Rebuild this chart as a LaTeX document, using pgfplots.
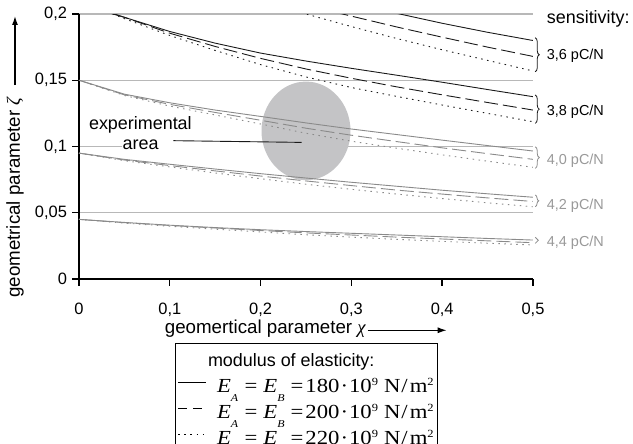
\documentclass[border=0pt]{standalone}
\usepackage{fontspec}
\setmainfont{Liberation Sans}
\newfontfamily\tnr{Liberation Serif}
\newfontfamily\tnrw[FakeStretch=1.14]{Liberation Serif}
\usepackage{pgfplots}
\usepackage{pgfplotstable}
\pgfplotsset{compat=1.18}
\usetikzlibrary{decorations.pathreplacing,arrows.meta}

\definecolor{blk}{HTML}{1A1A1A}
\definecolor{gry}{HTML}{8A8A8A}
\definecolor{gridc}{HTML}{B8B8B8}
\definecolor{circ}{HTML}{C4C4C6}
\definecolor{glab}{HTML}{999999}

\newcommand\fA{\fontsize{18}{21}\selectfont}
\newcommand\fL{\fontsize{18.8}{21}\selectfont}
\newcommand\fT{\fontsize{16.5}{19}\selectfont}
\newcommand\fS{\fontsize{14.5}{17}\selectfont}
\newcommand\sub[1]{\raisebox{-0.45em}{\fontsize{10.5}{11}\selectfont\itshape #1}}
\newcommand\sups[1]{\raisebox{0.36em}{\fontsize{11}{11}\selectfont #1}}
\newcommand\erow[1]{{\tnrw\fontsize{20}{22}\selectfont\hspace{9bp}{\itshape E}\sub{A}\hspace{6.5bp}=\hspace{6bp}{\itshape E}\sub{B}\hspace{6bp}=\hspace{2bp}#1\hspace{1bp}·\hspace{1bp}10\sups{9}\hspace{6bp}N\hspace{1bp}/\hspace{2bp}m\sups{2}}}

% sensitivity 3,6 pC/N
\pgfplotstableread{
x s d t
0.20 0.2200 0.2150 0.2095
0.25 0.2135 0.2065 0.2000
0.30 0.2068 0.1984 0.1905
0.35 0.2005 0.1902 0.1815
0.40 0.1930 0.1825 0.1730
0.45 0.1862 0.1750 0.1650
0.50 0.1800 0.1680 0.1570
}\gSix
% sensitivity 3,8 pC/N
\pgfplotstableread{
x s d t
0.00 0.2075 0.2090 0.2100
0.05 0.1975 0.1975 0.1965
0.10 0.1868 0.1855 0.1838
0.15 0.1780 0.1755 0.1725
0.20 0.1705 0.1665 0.1618
0.25 0.1645 0.1585 0.1525
0.30 0.1590 0.1515 0.1445
0.35 0.1538 0.1450 0.1378
0.40 0.1485 0.1390 0.1313
0.45 0.1430 0.1332 0.1250
0.50 0.1376 0.1275 0.1187
}\gEight
% sensitivity 4,0 pC/N
\pgfplotstableread{
x s d t
0.00 0.1500 0.1500 0.1500
0.05 0.1395 0.1390 0.1385
0.10 0.1330 0.1318 0.1305
0.15 0.1275 0.1257 0.1238
0.20 0.1227 0.1198 0.1170
0.25 0.1178 0.1138 0.1100
0.30 0.1132 0.1085 0.1040
0.35 0.1090 0.1037 0.0987
0.40 0.1048 0.0990 0.0937
0.45 0.1007 0.0946 0.0889
0.50 0.0966 0.0903 0.0843
}\gForty
% sensitivity 4,2 pC/N
\pgfplotstableread{
x s d t
0.00 0.0950 0.0950 0.0950
0.05 0.0903 0.0898 0.0893
0.10 0.0866 0.0856 0.0846
0.15 0.0830 0.0816 0.0800
0.20 0.0795 0.0777 0.0757
0.25 0.0762 0.0740 0.0715
0.30 0.0730 0.0705 0.0677
0.35 0.0700 0.0671 0.0641
0.40 0.0670 0.0641 0.0607
0.45 0.0643 0.0612 0.0575
0.50 0.0617 0.0585 0.0545
}\gFortyTwo
% sensitivity 4,4 pC/N
\pgfplotstableread{
x s d t
0.00 0.0450 0.0450 0.0450
0.05 0.0427 0.0425 0.0422
0.10 0.0406 0.0404 0.0398
0.15 0.0388 0.0385 0.0376
0.20 0.0372 0.0366 0.0355
0.25 0.0358 0.0348 0.0334
0.30 0.0345 0.0332 0.0316
0.35 0.0332 0.0316 0.0299
0.40 0.0319 0.0302 0.0284
0.45 0.0306 0.0288 0.0270
0.50 0.0294 0.0274 0.0257
}\gFortyFour

\begin{document}
\begin{tikzpicture}
\useasboundingbox (-79bp,-165bp) rectangle (554bp,279bp);
\begin{axis}[
  scale only axis, width=454bp, height=265bp,
  xmin=0, xmax=0.5, ymin=0, ymax=0.2,
  axis x line*=bottom, axis y line*=left,
  axis line style={line width=1.6bp, black},
  xtick={0,0.1,0.2,0.3,0.4,0.5},
  xticklabels={0,{0,1},{0,2},{0,3},{0,4},{0,5}},
  ytick={0,0.05,0.1,0.15,0.2},
  yticklabels={0,{0,05},{0,1},{0,15},{0,2}},
  tick align=outside, major tick length=6.5bp,
  tick style={line width=1.4bp, black},
  ymajorgrids, grid style={gridc, line width=1.3bp},
  ticklabel style={font=\fT},
  xticklabel style={anchor=north, yshift=-14bp},
  yticklabel style={anchor=east, xshift=-2bp},
  clip mode=individual,
  legend style={at={(axis cs:0.1057,-0.0483)}, anchor=north west, draw=black,
    line width=0.8bp, fill=white, inner xsep=2bp, inner ysep=6bp, row sep=0bp,
    nodes={inner sep=1.5bp, text height=16bp, text depth=7bp}, font=\fA},
  legend cell align=left,
]
% background annotation elements
\fill[white] (axis cs:0.047,0.0975) rectangle (axis cs:0.205,0.1018);
\fill[circ] (axis cs:0.25,0.1118) ellipse [x radius=0.049, y radius=0.0372];

% 3,6 pC/N
\addplot[blk, line width=0.9bp, forget plot] table[x=x,y=s]{\gSix};
\addplot[blk, line width=0.9bp, dash pattern=on 14bp off 5bp, forget plot] table[x=x,y=d]{\gSix};
\addplot[blk, line width=0.9bp, dash pattern=on 1.5bp off 4.5bp, forget plot] table[x=x,y=t]{\gSix};
% 3,8 pC/N
\addplot[blk, line width=0.9bp, forget plot] table[x=x,y=s]{\gEight};
\addplot[blk, line width=0.9bp, dash pattern=on 14bp off 5bp, forget plot] table[x=x,y=d]{\gEight};
\addplot[blk, line width=0.9bp, dash pattern=on 1.5bp off 4.5bp, forget plot] table[x=x,y=t]{\gEight};
% 4,0 pC/N
\addplot[gry, line width=0.9bp, forget plot] table[x=x,y=s]{\gForty};
\addplot[gry, line width=0.9bp, dash pattern=on 14bp off 5bp, forget plot] table[x=x,y=d]{\gForty};
\addplot[gry, line width=0.9bp, dash pattern=on 1.5bp off 4.5bp, forget plot] table[x=x,y=t]{\gForty};
% 4,2 pC/N
\addplot[gry, line width=0.9bp, forget plot] table[x=x,y=s]{\gFortyTwo};
\addplot[gry, line width=0.9bp, dash pattern=on 14bp off 5bp, forget plot] table[x=x,y=d]{\gFortyTwo};
\addplot[gry, line width=0.9bp, dash pattern=on 1.5bp off 4.5bp, forget plot] table[x=x,y=t]{\gFortyTwo};
% 4,4 pC/N
\addplot[gry, line width=0.9bp, forget plot] table[x=x,y=s]{\gFortyFour};
\addplot[gry, line width=0.9bp, dash pattern=on 14bp off 5bp, forget plot] table[x=x,y=d]{\gFortyFour};
\addplot[gry, line width=0.9bp, dash pattern=on 1.5bp off 4.5bp, forget plot] table[x=x,y=t]{\gFortyFour};

% legend
\addlegendimage{empty legend}
\addlegendentry{modulus of elasticity:}
\addlegendimage{legend image code/.code={\draw[black, line width=0.9bp] (0bp,6bp) -- (28bp,6bp);}}
\addlegendentry{\erow{180}}
\addlegendimage{legend image code/.code={\draw[black, line width=1.4bp] (0bp,6bp) -- (9bp,6bp) (15bp,6bp) -- (24bp,6bp);}}
\addlegendentry{\erow{200}}
\addlegendimage{legend image code/.code={\draw[black, line width=1.1bp, dash pattern=on 1.6bp off 4.6bp] (0bp,6bp) -- (26bp,6bp);}}
\addlegendentry{\erow{220}}

% experimental area annotation
\draw[blk, line width=0.9bp] (axis cs:0.1039,0.1044) -- (axis cs:0.2453,0.1031);
\node[anchor=base, font=\fA, inner sep=0] at (axis cs:0.0676,0.1130) {experimental};
\node[anchor=base, font=\fA, inner sep=0] at (axis cs:0.0679,0.0974) {area};

% sensitivity labels and braces
\node[anchor=base west, font=\fA, inner sep=0] at (axis cs:0.5151,0.1925) {sensitivity:};
\draw[blk, line width=0.8bp, decorate, decoration={brace, amplitude=4bp}] (axis cs:0.5025,0.1821) -- (axis cs:0.5025,0.1564);
\node[anchor=base west, font=\fS, inner sep=0] at (axis cs:0.5151,0.1653) {3,6 pC/N};
\draw[blk, line width=0.8bp, decorate, decoration={brace, amplitude=4bp}] (axis cs:0.5025,0.1389) -- (axis cs:0.5025,0.1175);
\node[anchor=base west, font=\fS, inner sep=0] at (axis cs:0.5151,0.1233) {3,8 pC/N};
\draw[gry, line width=0.8bp, decorate, decoration={brace, amplitude=4bp}] (axis cs:0.5025,0.0998) -- (axis cs:0.5025,0.0835);
\node[anchor=base west, font=\fS, inner sep=0, text=glab] at (axis cs:0.5151,0.0865) {4,0 pC/N};
\draw[gry, line width=0.8bp, decorate, decoration={brace, amplitude=3.5bp}] (axis cs:0.5025,0.0634) -- (axis cs:0.5025,0.0546);
\node[anchor=base west, font=\fS, inner sep=0, text=glab] at (axis cs:0.5151,0.0528) {4,2 pC/N};
\draw[gry, line width=0.8bp, decorate, decoration={brace, amplitude=3bp}] (axis cs:0.5025,0.0315) -- (axis cs:0.5025,0.0269);
\node[anchor=base west, font=\fS, inner sep=0, text=glab] at (axis cs:0.5151,0.0249) {4,4 pC/N};

% axis titles with arrows
\node[rotate=90, anchor=base west, font=\fL, inner sep=0] at (axis cs:-0.065,-0.0143) {geometrical parameter {\tnr\itshape ζ}};
\draw[-{Latex[length=9bp,width=6bp]}, line width=1.3bp, black] (axis cs:-0.0705,0.1464) -- (axis cs:-0.0705,0.1985);
\node[anchor=base east, font=\fL, inner sep=0] at (axis cs:0.316,-0.0415) {geomertical parameter {\tnr\itshape χ}};
\draw[-{Latex[length=9bp,width=6bp]}, line width=1.3bp, black] (axis cs:0.318,-0.0387) -- (axis cs:0.405,-0.0387);
\end{axis}
\end{tikzpicture}
\end{document}
